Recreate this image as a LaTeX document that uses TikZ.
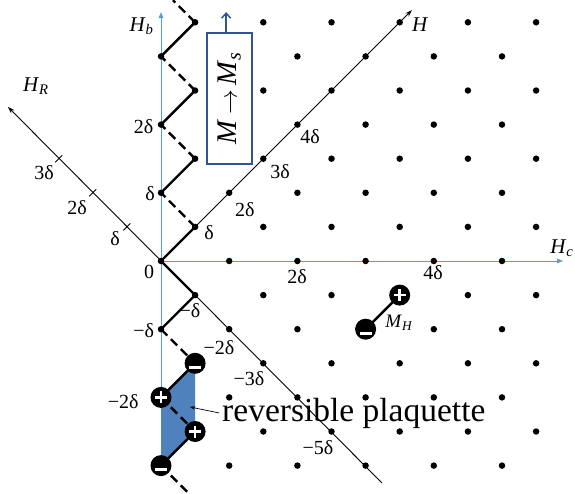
\documentclass[tikz,border=0pt]{standalone}
\usepackage{fontspec}
\setmainfont{Liberation Serif}
\usetikzlibrary{arrows.meta}
\definecolor{axisblue}{RGB}{91,155,213}
\definecolor{boxblue}{RGB}{47,85,151}
\definecolor{plaqblue}{RGB}{79,129,189}
\newcommand{\axname}[2]{\textit{#1}\textsubscript{\textit{#2}}}
\tikzset{
  latdot/.style={circle,fill=black,inner sep=0pt,minimum size=6.5pt},
  chg/.style={circle,fill=black,inner sep=0pt,minimum size=21pt},
  qplus/.style={chg,path picture={\draw[white,line width=2.6pt]
      ([xshift=-6pt]path picture bounding box.center) --
      ([xshift=6pt]path picture bounding box.center)
      ([yshift=-6pt]path picture bounding box.center) --
      ([yshift=6pt]path picture bounding box.center);}},
  qminus/.style={chg,path picture={\draw[white,line width=2.6pt]
      ([shift={(-6pt,-4pt)}]path picture bounding box.center) --
      ([shift={(6pt,-4pt)}]path picture bounding box.center);}},
  blueax/.style={draw=axisblue,line width=1pt,-{Triangle[length=6pt,width=4.5pt]}},
  blackax/.style={draw=black,line width=0.9pt},
  zsolid/.style={draw=black,line width=2.4pt},
  zdash/.style={draw=black,line width=2.4pt,dash pattern=on 9pt off 5pt},
  lbl/.style={inner sep=0pt,font=\fontsize{20}{20}\selectfont},
  axlbl/.style={inner sep=0pt,font=\fontsize{21}{21}\selectfont},
  mbox/.style={draw=boxblue,fill=white,line width=1.5pt,minimum width=131pt,
               minimum height=45pt,inner sep=0pt,font=\fontsize{28.5}{28.5}\selectfont},
}
\begin{document}
\begin{tikzpicture}[x=34.1pt,y=34.1pt]
  \useasboundingbox (-161pt,-232pt) rectangle (414pt,261pt);
  % lattice sites
  \foreach \i in {0,...,11}{
    \foreach \j in {-6,...,7}{
      \ifodd\numexpr\i+\j\relax\else \coordinate (g\i_\j) at (\i,\j); \fi}}
  \coordinate (hbtop) at (0,7.3);
  \coordinate (hcend) at (11.79,0);
  \coordinate (hend)  at (7.36,7.36);
  \coordinate (hrend) at (-4.49,4.52);
  \coordinate (hrlow) at (6.48,-6.51);
  \coordinate (ztop)  at (0.35,7.65);
  \coordinate (zbot)  at (0.8,-6.8);
  % axes
  \draw[blueax] (g0_-6) -- (hbtop);
  \draw[blueax] (g0_0) -- (hcend);
  \draw[blackax,-{Stealth[length=7pt,width=4.5pt]}] (g0_0) -- (hend);
  \draw[blackax,-{Stealth[length=7pt,width=4.5pt]}] (hrlow) -- (hrend);
  \foreach \k in {1,2,3}
    \draw[blackax] (-\k,\k) ++(-3.5pt,-3.5pt) -- ++(7pt,7pt);
  % plaquette
  \fill[plaqblue] (g0_-4) -- (g1_-3) -- (g1_-5) -- (g0_-6) -- cycle;
  % zigzag
  \foreach \a/\b in {g0_0/g1_1,g0_2/g1_3,g0_4/g1_5,g0_6/g1_7,
      g0_0/g1_-1,g1_-1/g0_-2,g1_-3/g0_-4,g1_-5/g0_-6}
    \draw[zsolid] (\a) -- (\b);
  \foreach \a/\b in {g1_1/g0_2,g1_3/g0_4,g1_5/g0_6,g1_7/ztop,
      g0_-2/g1_-3,g0_-4/g1_-5,g0_-6/zbot}
    \draw[zdash] (\a) -- (\b);
  \draw[zsolid] (g6_-2) -- (g7_-1);
  % dots
  \foreach \i in {0,...,11}{
    \foreach \j in {-6,...,7}{
      \ifodd\numexpr\i+\j\relax\else \node[latdot] (d\i_\j) at (g\i_\j) {}; \fi}}
  % charges
  \node[qminus] (qa) at (g1_-3) {};
  \node[qplus]  (qb) at (g0_-4) {};
  \node[qplus]  (qc) at (g1_-5) {};
  \node[qminus] (qd) at (g0_-6) {};
  \node[qplus]  (qe) at (g7_-1) {};
  \node[qminus] (qf) at (g6_-2) {};
  % M -> Ms box
  \node[mbox,rotate=90] (msbox) at (2.01,4.77)
    {\textit{M}$\,\rightarrow\,$\textit{M}\textsubscript{\textit{s}}};
  \coordinate (boxup) at (2.01-0.1,7.3);
  \draw[boxblue,line width=1.5pt,-{Straight Barb[length=5pt,width=9pt]}]
    (msbox.east -| boxup) -- (boxup);
  % axis names
  \node[axlbl] (nhb) at (-0.57,6.89) {\axname{H}{b}};
  \node[axlbl] (nhr) at (-3.67,5.13) {\axname{H}{R}};
  \node[axlbl] (nh)  at (7.60,6.92) {\textit{H}};
  \node[axlbl,anchor=east] (nhc) at (12.1,0.38) {\axname{H}{c}};
  % tick labels
  \node[lbl] (b1)  at (-0.32,1.99) {δ};
  \node[lbl] (b2)  at (-0.51,3.93) {2δ};
  \node[lbl] (b0)  at (-0.35,-0.32) {0};
  \node[lbl] (bm1) at (-0.51,-2.05) {−δ};
  \node[lbl] (bm2) at (-1.11,-4.13) {−2δ};
  \node[lbl] (c2)  at (3.99,-0.47) {2δ};
  \node[lbl] (c4)  at (7.98,-0.35) {4δ};
  \node[lbl] (h1)  at (1.41,0.82) {δ};
  \node[lbl] (h2)  at (2.46,1.50) {2δ};
  \node[lbl] (h3)  at (3.49,2.61) {3δ};
  \node[lbl] (h4)  at (4.37,3.64) {4δ};
  \node[lbl] (r1)  at (-1.35,0.67) {δ};
  \node[lbl] (r2)  at (-2.46,1.58) {2δ};
  \node[lbl] (r3)  at (-3.43,2.58) {3δ};
  \node[lbl] (rm1) at (0.85,-1.45) {−δ};
  \node[lbl] (rm2) at (1.70,-2.55) {−2δ};
  \node[lbl] (rm3) at (2.58,-3.46) {−3δ};
  \node[lbl] (rm5) at (4.60,-5.48) {−5δ};
  \node[inner sep=0pt,font=\fontsize{19}{19}\selectfont] (mh) at (6.98,-1.82)
    {\axname{M}{H}};
  % plaquette label
  \node[inner sep=0pt,anchor=base west,font=\fontsize{33.5}{33.5}\selectfont]
    (rp) at (1.79,-4.72) {reversible plaquette};
  \coordinate (rptip) at (0.85,-4.28);
  \draw[line width=0.7pt,-{Stealth[length=5pt,width=3.5pt]}]
    ([shift={(-3pt,9pt)}]rp.base west) -- (rptip);
\end{tikzpicture}
\end{document}
